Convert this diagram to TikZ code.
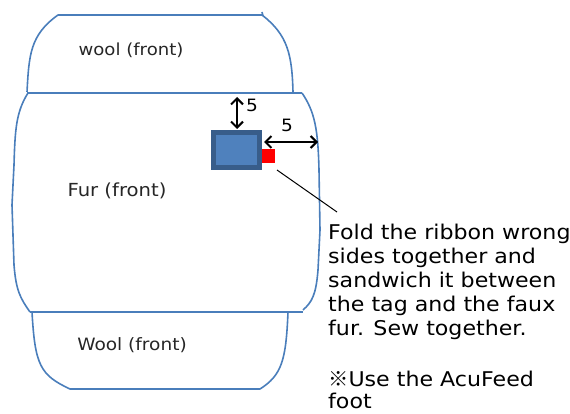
\documentclass[tikz,border=0pt]{standalone}
\usepackage{fontspec}
\setmainfont{DejaVu Sans}[FakeStretch=1.09]
\newfontfamily\cjk{Noto Sans CJK JP}
\usetikzlibrary{arrows.meta}
\definecolor{outline}{HTML}{4A7EBB}
\definecolor{tagdark}{HTML}{385D8A}
\definecolor{tagfill}{HTML}{4F81BD}
\tikzset{
  piece/.style={draw=outline, line width=1.6pt, line join=round},
  lbl/.style={text=black!85, inner sep=0pt},
  note/.style={font=\fontsize{20.3}{24}\selectfont, align=left, inner sep=0pt, anchor=base west},
  dim/.style={line width=2pt, {Straight Barb[length=6pt,width=12pt]}-{Straight Barb[length=6pt,width=12pt]}},
  dimlbl/.style={font=\fontsize{17}{20}\selectfont, inner sep=0pt}
}
\begin{document}
\begin{tikzpicture}[x=1pt,y=-1pt]
\useasboundingbox (0,0) rectangle (570,414);
% top wool
\draw[piece] (27,92) .. controls (29,55) and (30,35) .. (58,15) -- (262,15)
  .. controls (288,35) and (292,55) .. (293,92);
\draw[piece] (262,12) -- (263,16);
% fur
\draw[piece] (27,93) -- (302,93);
\draw[piece] (28,93) .. controls (16,112) and (15,130) .. (14,165) -- (12,205) -- (14,265)
  .. controls (16,290) and (20,298) .. (30,312);
\draw[piece] (302,93) .. controls (315,112) and (318,130) .. (319,170) -- (320,230)
  -- (318,270) .. controls (316,295) and (312,302) .. (303,310);
\draw[piece] (30,312) -- (303,312);
% bottom wool
\draw[piece] (32,312) .. controls (35,365) and (40,375) .. (70,389) -- (260,389)
  .. controls (282,375) and (286,360) .. (288,312);
% labels
\node[lbl, font=\fontsize{16.6}{19}\selectfont] (woolTop) at (131,50) {wool (front)};
\node[lbl, font=\fontsize{18}{20}\selectfont] (fur) at (117,191) {Fur (front)};
\node[lbl, font=\fontsize{17}{20}\selectfont] (woolBot) at (132,345) {Wool (front)};
% tag
\node[draw=tagdark, line width=5pt, fill=tagfill, minimum width=46pt, minimum height=35pt, inner sep=0pt] (tag) at (236.5,150) {};
\node[fill=red, minimum width=13pt, minimum height=14pt, inner sep=0pt] (ribbon) at (268.5,156) {};
% dimensions
\coordinate (vtop) at (237,97);
\coordinate (vbot) at (237,129);
\draw[dim] (vtop) -- (vbot);
\node[dimlbl] (five1) at (252,105) {5};
\coordinate (hl) at (264,142);
\coordinate (hr) at (318,142);
\draw[dim] (hl) -- (hr);
\node[dimlbl] (five2) at (287,125) {5};
% leader
\coordinate (lstart) at (277,170);
\coordinate (lend) at (337,212);
\draw[line width=1pt] (lstart) -- (lend);
% note
\node[note] (note) at (328,335) {Fold the ribbon wrong\\sides together and\\sandwich it between\\the tag and the faux\\fur. Sew together.};
\node[note, font=\fontsize{20.3}{21.5}\selectfont] (note2) at (328,408) {{\cjk ※}Use the AcuFeed\\foot};
\end{tikzpicture}
\end{document}
